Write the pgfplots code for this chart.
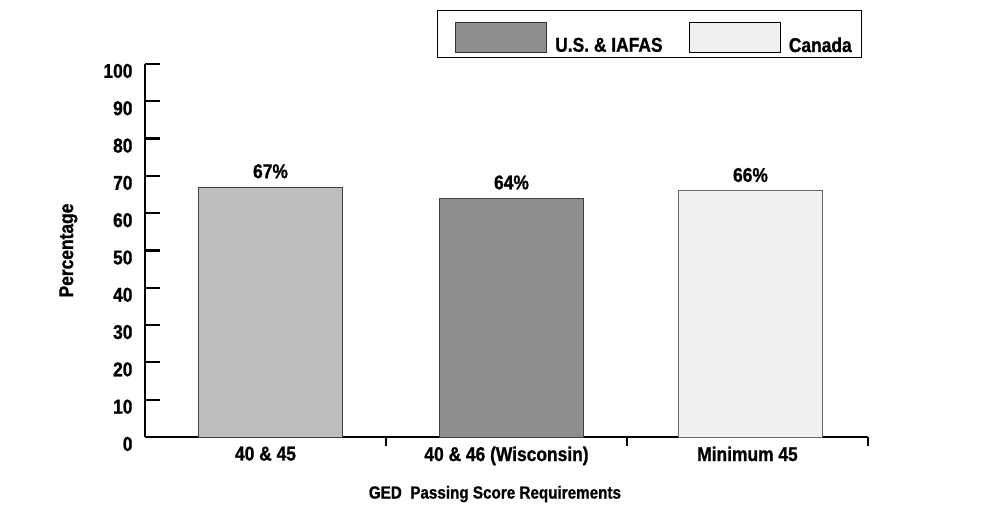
\documentclass[border=0pt]{standalone}
\usepackage{fontspec}
\setmainfont{Liberation Sans}[FakeStretch=0.87, BoldFeatures={FakeBold=1}]
\usepackage{pgfplots}
\pgfplotsset{compat=1.18}
\usetikzlibrary{calc}

\definecolor{usdark}{HTML}{8E8E8E}
\definecolor{usmid}{HTML}{BDBDBD}
\definecolor{canlight}{HTML}{F0F0F0}

\newcommand{\lblfont}{\fontsize{20}{23}\selectfont\bfseries}

\begin{document}
\begin{tikzpicture}
\begin{axis}[
  name=ax,
  scale only axis,
  width=723pt, height=373pt,
  xmin=-0.5, xmax=2.5,
  ymin=0, ymax=100,
  axis lines=left,
  axis line style={-, line width=2.6pt, black},
  tick align=inside,
  major tick length=15pt,
  ytick={0,10,...,100},
  ytick style={line width=2.2pt, black},
  yticklabel style={font=\lblfont, yshift=-7pt, xshift=-9pt},
  /pgf/number format/assume math mode=true,
  xtick={0,1,2},
  xticklabels={40 \& 45, 40 \& 46 (Wisconsin), Minimum 45},
  xtick style={draw=none},
  xticklabel style={font=\lblfont, yshift=9pt},
  extra x ticks={0.5,1.5,2.5},
  extra x tick labels={},
  extra x tick style={major tick length=9pt, xtick style={draw=black, line width=2pt}},
  ylabel={Percentage},
  ylabel style={font=\lblfont, at={(axis description cs:-0.106,0.5)}, anchor=center},
  xlabel={GED\ \ Passing Score Requirements},
  xlabel style={font=\fontsize{17.5}{21}\selectfont\bfseries,
    at={(axis description cs:0.484,-0.153)}, anchor=center},
  ybar, bar width=0.6,
  nodes near coords={\pgfmathprintnumber{\pgfplotspointmeta}\%},
  nodes near coords style={font=\lblfont, yshift=5pt},
  legend columns=2,
  legend style={
    at={(rel axis cs:0.992,1)}, anchor=south east, yshift=6pt,
    draw=black, line width=1pt,
    inner xsep=10pt, inner ysep=4pt,
    nodes={inner sep=0pt, font=\lblfont},
    /tikz/every odd column/.append style={column sep=8.5pt},
    /tikz/every even column/.append style={column sep=26pt},
  },
  clip=false,
]
% U.S. & IAFAS requirement groups
\addplot[forget plot, bar shift=5pt, fill=usmid, draw=black!75, line width=0.8pt]
  coordinates {(0,67)};
\addplot[forget plot, bar shift=5pt, fill=usdark, draw=black!75, line width=0.8pt]
  coordinates {(1,64)};
% Canada
\addplot[forget plot, bar shift=3pt, fill=canlight, draw=black!60, line width=0.8pt]
  coordinates {(2,66)};

\addlegendimage{legend image code/.code={
  \path (0pt,30pt);
  \draw[fill=usdark, draw=black!80, line width=0.8pt] (7pt,-7.2pt) rectangle (98pt,22.8pt);}}
\addlegendentry{U.S. \& IAFAS}
\addlegendimage{legend image code/.code={
  \draw[fill=canlight, draw=black, line width=0.8pt] (0pt,-7.2pt) rectangle (91pt,22.8pt);}}
\addlegendentry{Canada}
\end{axis}
\path[use as bounding box] ($(ax.south west)+(-145pt,-81pt)$) rectangle ++(986pt,518pt);
\end{tikzpicture}
\end{document}
